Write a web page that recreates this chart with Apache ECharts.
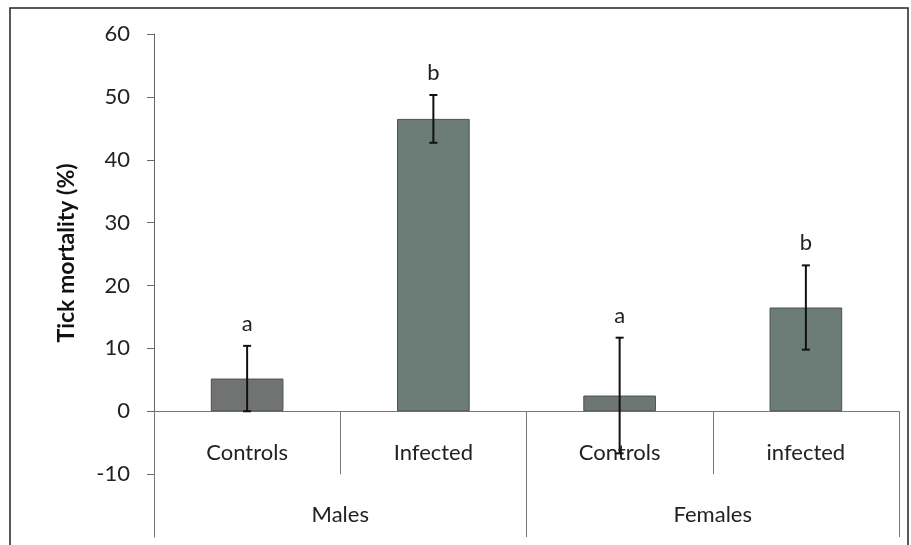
<!DOCTYPE html>
<html>
<head>
<meta charset="utf-8">
<script src="https://cdn.jsdelivr.net/npm/echarts@6/dist/echarts.min.js"></script>
<style>
  html, body { margin: 0; padding: 0; background: #fff; }
  #chart { width: 911px; height: 545px; }
</style>
</head>
<body>
<div id="chart"></div>
<script>
// values
const categories = ['Controls', 'Infected', 'Controls', 'infected'];
const groups = ['Males', 'Females'];
const mortality = [5.2, 46.5, 2.5, 16.5];
const errors = [5.2, 3.8, 9.2, 6.7];
const letters = ['a', 'b', 'a', 'b'];
const yTicks = [-10, 0, 10, 20, 30, 40, 50, 60];
const barColors = ['#717372', '#6c7d78', '#6e7672', '#6c7d78'];

const font = 'Lato, "Open Sans", sans-serif';

let myChart = echarts.init(document.getElementById('chart'));

let option = {
  backgroundColor: '#fff',
  animation: false,
  grid: { left: 154, right: 12, top: 34, bottom: 8, containLabel: false, outerBoundsMode: 'none' },
  graphic: [
    {
      type: 'rect',
      shape: { x: 10, y: 8, width: 898, height: 560 },
      style: { fill: 'none', stroke: '#222', lineWidth: 1.5 },
      z: 0
    },
    {
      type: 'text',
      x: 67,
      y: 253,
      rotation: Math.PI / 2,
      style: {
        text: 'Tick mortality (%)',
        font: 'bold 23px ' + font,
        fill: '#111',
        align: 'center',
        verticalAlign: 'middle'
      }
    }
  ],
  xAxis: [
    {
      // line at zero with the short separators
      type: 'category',
      data: categories,
      axisLine: { onZero: true, lineStyle: { color: '#777', width: 1 } },
      axisTick: { show: true, length: 63, lineStyle: { color: '#777' } },
      axisLabel: { show: false }
    },
    {
      // group level: Males / Females
      type: 'category',
      data: groups,
      position: 'bottom',
      axisLine: { show: false, onZero: false },
      axisTick: { show: true, inside: true, length: 124, lineStyle: { color: '#777' } },
      axisLabel: { inside: true, margin: 11, fontSize: 22, color: '#222', fontFamily: font }
    },
    {
      // category names under the zero line
      type: 'category',
      data: categories,
      position: 'bottom',
      axisLine: { show: false, onZero: false },
      axisTick: { show: false },
      axisLabel: { inside: true, margin: 73, fontSize: 22, color: '#222', fontFamily: font }
    }
  ],
  yAxis: {
    type: 'value',
    min: -20,
    max: 60,
    interval: 10,
    axisLine: { show: true, lineStyle: { color: '#666' } },
    axisTick: { show: true, length: 7, customValues: yTicks, lineStyle: { color: '#666' } },
    splitLine: { show: false },
    axisLabel: {
      margin: 24,
      fontSize: 22,
      color: '#222',
      fontFamily: font,
      customValues: yTicks
    }
  },
  series: [
    {
      type: 'bar',
      xAxisIndex: 0,
      barWidth: '39%',
      data: mortality.map((v, i) => ({
        value: v,
        itemStyle: { color: barColors[i], borderColor: '#4b514e', borderWidth: 1 }
      })),
      z: 2
    },
    {
      type: 'custom',
      xAxisIndex: 0,
      data: mortality.map((v, i) => [i, v - errors[i], v + errors[i]]),
      renderItem: function (params, api) {
        let i = api.value(0);
        let lo = api.coord([i, api.value(1)]);
        let hi = api.coord([i, api.value(2)]);
        let x = hi[0];
        let cap = 4;
        return {
          type: 'group',
          children: [
            { type: 'line', shape: { x1: x, y1: lo[1], x2: x, y2: hi[1] }, style: { stroke: '#111', lineWidth: 2 } },
            { type: 'line', shape: { x1: x - cap, y1: hi[1], x2: x + cap, y2: hi[1] }, style: { stroke: '#111', lineWidth: 2 } },
            { type: 'line', shape: { x1: x - cap, y1: lo[1], x2: x + cap, y2: lo[1] }, style: { stroke: '#111', lineWidth: 2 } },
            {
              type: 'text',
              x: x,
              y: hi[1] - 22,
              style: {
                text: letters[params.dataIndex],
                font: '22px ' + font,
                fill: '#222',
                align: 'center',
                verticalAlign: 'middle'
              }
            }
          ]
        };
      },
      z: 3
    }
  ]
};

myChart.setOption(option);
</script>
</body>
</html>
